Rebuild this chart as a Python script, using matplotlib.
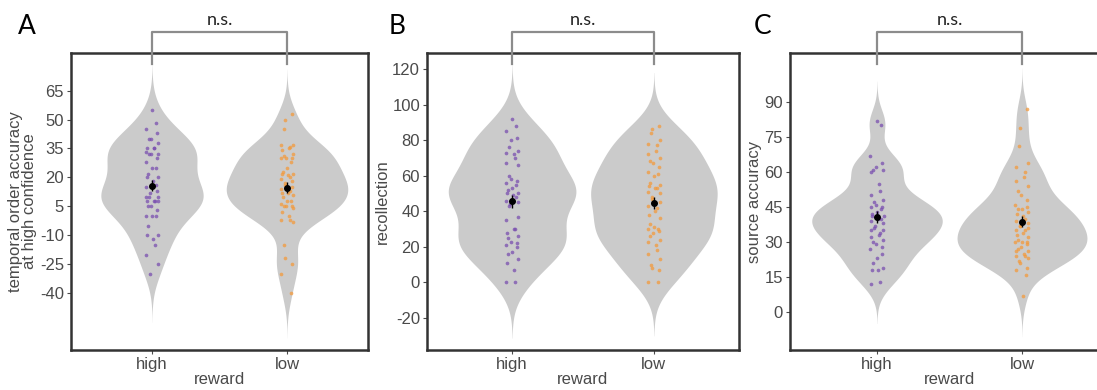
import numpy as np
import matplotlib
matplotlib.use("Agg")
import matplotlib.pyplot as plt
import matplotlib.transforms as mtransforms

# groups on the x axis
groups = ["high", "low"]
group_colors = ["#7a4fb0", "#f39a3c"]

# panel A: temporal order accuracy at high confidence
a_high = [55, 48, 45, 43, 40, 40, 38, 35, 35, 35, 33, 32, 32, 32, 30, 28, 25, 25, 22, 20, 20, 18, 16, 15,
          13, 12, 10, 10, 10, 8, 8, 8, 8, 5, 5, 3, 0, 0, 0, -5, -10, -10, -12, -15, -20, -25, -30]
a_low = [53, 50, 45, 37, 37, 36, 35, 34, 32, 31, 30, 30, 30, 28, 25, 23, 22, 22, 21, 20, 19, 18, 17, 16,
         15, 14, 13, 12, 12, 11, 10, 8, 8, 6, 5, 5, 5, 4, 2, 0, -2, -2, -3, -15, -22, -25, -30, -40]
# panel B: recollection
b_high = [92, 88, 85, 81, 80, 76, 74, 73, 72, 70, 67, 66, 60, 58, 57, 56, 55, 53, 52, 50, 50, 49, 48, 46,
          45, 44, 43, 37, 35, 30, 30, 28, 26, 25, 23, 22, 21, 20, 17, 16, 13, 11, 7, 0, 0]
b_low = [88, 86, 84, 80, 78, 77, 74, 72, 70, 68, 67, 65, 62, 61, 60, 56, 55, 54, 53, 53, 51, 50, 48, 47,
         45, 43, 42, 40, 38, 36, 33, 31, 30, 30, 29, 28, 26, 24, 23, 21, 18, 16, 13, 10, 8, 7, 0, 0]
# panel C: source accuracy
c_high = [82, 80, 67, 64, 62, 61, 61, 60, 55, 52, 50, 48, 47, 46, 45, 45, 44, 43, 42, 41, 41, 40, 40, 39,
          38, 37, 36, 35, 35, 34, 33, 32, 31, 30, 29, 28, 27, 25, 23, 21, 19, 18, 18, 13, 12]
c_low = [87, 79, 71, 64, 62, 60, 58, 56, 54, 52, 50, 48, 46, 45, 44, 44, 43, 42, 41, 40, 39, 38, 37, 37,
         36, 35, 35, 34, 33, 32, 31, 30, 30, 30, 29, 28, 27, 26, 26, 25, 24, 24, 23, 22, 21, 19, 18, 16, 7]

letters = ["A", "B", "C"]
ylabels = ["temporal order accuracy\nat high confidence", "recollection", "source accuracy"]
yticks_a = [65, 50, 35, 20, 5, -10, -25, -40]
yticks_b = [120, 100, 80, 60, 40, 20, 0, -20]
yticks_c = [90, 75, 60, 45, 30, 15, 0]
ylims = [(-69.5, 84.5), (-38, 129), (-16.3, 111)]


def nrd0(x):
    x = np.asarray(x, float)
    iqr = np.subtract(*np.percentile(x, [75, 25]))
    lo = min(np.std(x, ddof=1), iqr / 1.34)
    return 0.9 * lo * len(x) ** -0.2


def kde(x, bw):
    x = np.asarray(x, float)
    grid = np.linspace(x.min() - 3 * bw, x.max() + 3 * bw, 400)
    d = np.exp(-0.5 * ((grid[:, None] - x[None, :]) / bw) ** 2).sum(axis=1)
    d = d / (len(x) * bw * np.sqrt(2 * np.pi))
    return grid, d


plt.rcParams["font.family"] = ["Liberation Sans", "DejaVu Sans"]
plt.rcParams["axes.unicode_minus"] = False
fig = plt.figure(figsize=(10.97, 3.90), dpi=100)

W, H = 1097.0, 390.0
boxes = [(71, 297), (427, 312), (790, 319)]
panels = [(a_high, a_low, yticks_a), (b_high, b_low, yticks_b), (c_high, c_low, yticks_c)]
text_col = "#4a4a4a"

for k, ((left, width), (hi, lo, yt)) in enumerate(zip(boxes, panels)):
    ax = fig.add_axes([left / W, 40 / H, width / W, 297 / H])
    data = [hi, lo]
    dens = []
    for vals in data:
        g, d = kde(vals, nrd0(vals))
        dens.append((g, d))
    dmax = max(d.max() for g, d in dens)
    for i, (g, d) in enumerate(dens):
        xpos = i + 1
        hw = 0.45 * d / dmax
        ax.fill_betweenx(g, xpos - hw, xpos + hw, color="#cbcbcb", lw=0, zorder=1)

    for i, vals in enumerate(data):
        xpos = i + 1
        v = np.asarray(vals, float)
        idx = np.arange(len(v))
        jit = 0.045 * np.sin(idx * 2.399 + i)
        ax.scatter(xpos + jit, v, s=7, color=group_colors[i], alpha=0.75, lw=0, zorder=2)
        m = v.mean()
        se = v.std(ddof=1) / np.sqrt(len(v))
        ax.errorbar([xpos], [m], yerr=[se], fmt="o", color="black", ms=4,
                    elinewidth=1, capsize=0, zorder=3)

    ax.set_xlim(0.4, 2.6)
    ax.set_ylim(*ylims[k])
    ax.set_xticks([1, 2])
    ax.set_xticklabels(groups)
    ax.set_yticks(yt)
    ax.tick_params(axis="both", labelsize=12, colors=text_col, length=3, width=0.8, pad=2)
    ax.tick_params(axis="x", pad=2)
    for s in ax.spines.values():
        s.set_linewidth(1.8)
        s.set_color("#333333")
    ax.set_xlabel("reward", fontsize=12, color=text_col, labelpad=0)
    ax.set_ylabel(ylabels[k], fontsize=12, color=text_col, labelpad=2, linespacing=0.95)

    # significance bracket
    tr = mtransforms.blended_transform_factory(ax.transData, ax.transAxes)
    ytop = (350 - 32) / 297.0
    ybot = (350 - 64) / 297.0
    ax.plot([1, 1, 2, 2], [ybot, ytop, ytop, ybot], transform=tr, color="#8c8c8c",
            lw=1.6, clip_on=False, zorder=5)
    ax.text(1.5, (350 - 20) / 297.0, "n.s.", transform=tr, ha="center", va="center",
            fontsize=13, family=["Lato", "DejaVu Sans"], color="#222222")

letter_x = [27, 397, 763]
for lx, lab in zip(letter_x, letters):
    fig.text(lx / W, 1 - 26 / H, lab, ha="center", va="center", fontsize=19,
             family=["Lato", "DejaVu Sans"], color="black")

fig.savefig("out.png", dpi=100)
